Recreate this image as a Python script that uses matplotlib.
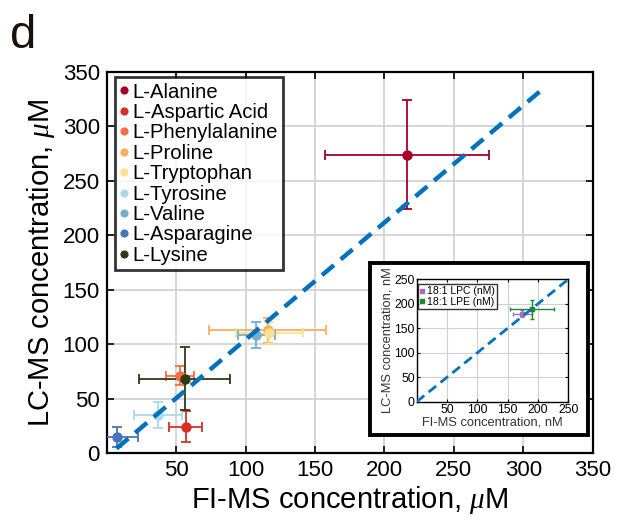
import matplotlib.pyplot as plt
from matplotlib.patches import Rectangle

plt.rcParams['font.family'] = ['Liberation Sans', 'DejaVu Sans']
plt.rcParams['mathtext.fontset'] = 'custom'
plt.rcParams['mathtext.it'] = 'Liberation Serif:italic'

# amino acids: FI-MS vs LC-MS (uM), with error bars
names = ["L-Alanine", "L-Aspartic Acid", "L-Phenylalanine", "L-Proline",
         "L-Tryptophan", "L-Tyrosine", "L-Valine", "L-Asparagine", "L-Lysine"]
fi_ms = [216, 56.8, 52.5, 116, 117, 36.9, 107.7, 7.4, 56.1]
lc_ms = [274, 24.6, 71.4, 113, 110.8, 35.4, 108.3, 15.3, 68.6]
fi_err = [59, 11.7, 10, 42, 24, 17, 13.5, 15, 33]
lc_err = [50, 14, 9, 11.5, 10, 12, 12, 9, 29]
colors = ["#a50026", "#d73027", "#f46d43", "#fdae61", "#fee090",
          "#abd9e9", "#74add1", "#4575b4", "#2f3a12"]

# fitted line end points
fit_x = [7, 312]
fit_y = [4.5, 332]

# lipids inset (nM)
lip_names = ["18:1 LPC (nM)", "18:1 LPE (nM)"]
lip_fi = [174, 190]
lip_lc = [180, 188.6]
lip_fi_err = [16, 36]
lip_lc_err = [8, 20]
lip_colors = ["#a66cc1", "#1e8a2e"]

ticks = [0, 50, 100, 150, 200, 250, 300, 350]
inset_ticks = [0, 50, 100, 150, 200, 250]

fig = plt.figure(figsize=(6.17, 5.2), dpi=100)
ax = fig.add_axes([0.173, 0.128, 0.7876, 0.734])

handles = []
for n, x, y, xe, ye, c in zip(names, fi_ms, lc_ms, fi_err, lc_err, colors):
    eb = ax.errorbar(x, y, xerr=xe, yerr=ye, fmt='o', color=c, ms=6.5,
                     elinewidth=1.3, capsize=3.5, capthick=1.3, zorder=3)
    handles.append(eb)
ax.plot(fit_x, fit_y, ls=(0, (3.5, 2)), color="#0072bd", lw=3.2, zorder=4)

ax.set_xlim(0, 350)
ax.set_ylim(0, 350)
ax.set_xticks(ticks)
ax.set_yticks(ticks)
ax.set_xticklabels([""] + [str(t) for t in ticks[1:]])
ax.tick_params(direction='in', length=5, width=1.2, labelsize=16,
               top=True, right=True, pad=5)
ax.grid(True, color="#d0d0d0", lw=1.2)
ax.set_axisbelow(True)
for s in ax.spines.values():
    s.set_linewidth(1.6)
ax.set_xlabel(r"FI-MS concentration, $\mu$M", fontsize=21, labelpad=2)
ax.set_ylabel(r"LC-MS concentration, $\mu$M", fontsize=21, labelpad=4)

leg = ax.legend([h[0] for h in handles], names, loc='upper left',
                bbox_to_anchor=(0.018, 0.985), fontsize=14.6, frameon=True,
                fancybox=False, edgecolor='black', handlelength=0.35,
                handletextpad=0.25, borderpad=0.25, labelspacing=0.07,
                markerscale=0.75, borderaxespad=0)
leg.get_frame().set_linewidth(2)

fig.text(0.016, 0.908, "d", fontsize=34, ha='left', va='baseline',
         color="#1a1208")

# inset frame
fig.patches.append(Rectangle((0.5997, 0.1635), 0.3533, 0.3307,
                             transform=fig.transFigure, facecolor='white',
                             edgecolor='black', lw=2.8, zorder=5))

ins = fig.add_axes([0.6754, 0.2275, 0.2457, 0.2354], zorder=6)
lip_handles = []
for n, x, y, xe, ye, c in zip(lip_names, lip_fi, lip_lc, lip_fi_err, lip_lc_err, lip_colors):
    eb = ins.errorbar(x, y, xerr=xe, yerr=ye, fmt='s', color=c, ms=3,
                      elinewidth=1, capsize=1.5, capthick=1, zorder=3)
    lip_handles.append(eb)
ins.plot([0, 250], [0, 250], ls=(0, (3.5, 2)), color="#0072bd", lw=2, zorder=4)
ins.set_xlim(0, 250)
ins.set_ylim(0, 250)
ins.set_xticks(inset_ticks)
ins.set_yticks(inset_ticks)
ins.set_xticklabels([""] + [str(t) for t in inset_ticks[1:]])
ins.tick_params(direction='in', length=2.5, width=0.8, labelsize=8.7,
                top=True, right=True, pad=1.5)
ins.grid(True, color="#d0d0d0", lw=0.8)
ins.set_axisbelow(True)
for s in ins.spines.values():
    s.set_linewidth(1)
ins.set_xlabel("FI-MS concentration, nM", fontsize=9.3, labelpad=0.5,
               color="#333333")
ins.set_ylabel("LC-MS concentration, nM", fontsize=9.3, labelpad=0.5,
               color="#333333")
ileg = ins.legend([h[0] for h in lip_handles], lip_names, loc='upper left',
                  bbox_to_anchor=(0.01, 0.96), fontsize=7.5, frameon=True,
                  fancybox=False, edgecolor='black', handlelength=0.35,
                  handletextpad=0.25, borderpad=0.2, labelspacing=0.05,
                  borderaxespad=0)
ileg.get_frame().set_linewidth(1)

fig.savefig("out.png", dpi=100)
